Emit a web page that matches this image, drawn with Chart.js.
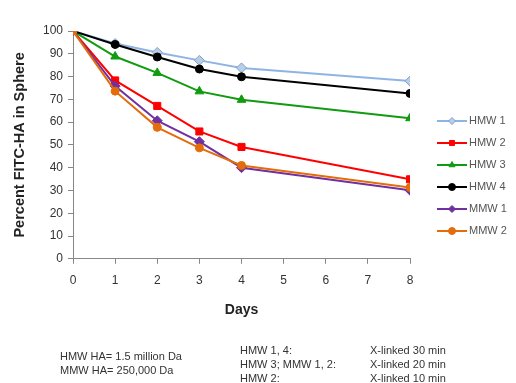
<!DOCTYPE html>
<html lang="en">
<head>
    <meta charset="UTF-8">
    <title>Percent FITC-HA in Sphere</title>
    <script src="https://cdn.jsdelivr.net/npm/chart.js@4.4.1/dist/chart.umd.min.js"></script>
    <style>
        body { margin: 0; background: #fff; }
        #wrap { position: relative; width: 516px; height: 383px; }
        #wrap canvas { position: absolute; left: 0; top: 0; }
        .note { position: absolute; font: 11px "Liberation Sans", Arial, sans-serif; color: #333; line-height: 14px; white-space: nowrap; }
    </style>
</head>
<body>
<div id="wrap">
    <canvas id="chart" width="516" height="383"></canvas>
    <div class="note" style="left:60px; top:349px;">HMW HA= 1.5 million Da<br>MMW HA= 250,000 Da</div>
    <div class="note" style="left:240px; top:343px;">HMW 1, 4:<br>HMW 3; MMW 1, 2:<br>HMW 2:</div>
    <div class="note" style="left:370px; top:343px;">X-linked 30 min<br>X-linked 20 min<br>X-linked 10 min</div>
</div>
<script>
// data
const days = [0, 1, 2, 3, 4, 8];
const seriesNames = ['HMW 1', 'HMW 2', 'HMW 3', 'HMW 4', 'MMW 1', 'MMW 2'];
const hmw1 = [100, 94.5, 90.6, 87.1, 83.8, 78.0];
const hmw2 = [100, 78.3, 67.1, 55.9, 49.1, 34.9];
const hmw3 = [100, 88.8, 81.6, 73.5, 69.8, 61.7];
const hmw4 = [100, 94.1, 88.6, 83.3, 79.9, 72.6];
const mmw1 = [100, 75.8, 60.6, 51.4, 40.0, 30.1];
const mmw2 = [100, 73.6, 57.7, 48.7, 41.0, 31.3];

const seriesValues = [hmw1, hmw2, hmw3, hmw4, mmw1, mmw2];
const lineColors = ['#8EB4E3', '#FF0000', '#119B11', '#000000', '#7030A0', '#E46C0A'];
const pointFills = ['#B9CDE5', '#FF0000', '#119B11', '#000000', '#7030A0', '#E46C0A'];
const pointBorders = ['#7F9FCF', '#FF0000', '#119B11', '#000000', '#7030A0', '#E46C0A'];
const pointShapes = ['rectRot', 'rect', 'triangle', 'circle', 'rectRot', 'circle'];
const pointSizes = [5, 5, 5, 4, 5, 4];

const datasets = seriesValues.map((vals, i) => ({
    label: seriesNames[i],
    data: days.map((d, j) => ({ x: d, y: vals[j] })),
    borderColor: lineColors[i],
    backgroundColor: pointFills[i],
    pointBackgroundColor: pointFills[i],
    pointBorderColor: pointBorders[i],
    pointStyle: pointShapes[i],
    pointRadius: pointSizes[i],
    pointBorderWidth: 1,
    borderWidth: 2,
    tension: 0,
    order: seriesValues.length - i   // later series on top, like the original
}));

// legend with line + marker, drawn on the canvas
const sideLegend = {
    id: 'sideLegend',
    afterDraw(chart) {
        const ctx = chart.ctx;
        ctx.save();
        chart.data.datasets.forEach((ds, i) => {
            const y = 121 + i * 22;
            ctx.strokeStyle = ds.borderColor;
            ctx.lineWidth = 2;
            ctx.beginPath();
            ctx.moveTo(437, y);
            ctx.lineTo(467, y);
            ctx.stroke();
            ctx.fillStyle = ds.pointBackgroundColor;
            ctx.strokeStyle = ds.pointBorderColor;
            ctx.lineWidth = 1;
            Chart.helpers.drawPoint(ctx, { pointStyle: ds.pointStyle, radius: 3.5, borderWidth: 1 }, 452, y);
            ctx.fillStyle = '#555';
            ctx.font = '11px "Liberation Sans", Arial, sans-serif';
            ctx.textBaseline = 'middle';
            ctx.fillText(ds.label, 469, y);
        });
        ctx.restore();
    }
};

new Chart(document.getElementById('chart'), {
    type: 'line',
    data: { datasets },
    options: {
        responsive: false,
        animation: false,
        layout: { padding: { left: 7, right: 106, top: 31, bottom: 60 } },
        plugins: { legend: { display: false }, tooltip: { enabled: false } },
        scales: {
            x: {
                type: 'linear',
                min: 0,
                max: 8,
                ticks: { stepSize: 1, color: '#333', padding: 10, font: { family: 'Liberation Sans', size: 12 } },
                grid: { drawOnChartArea: false, drawTicks: true, tickLength: 5, color: '#888' },
                border: { color: '#888' },
                title: { display: true, text: 'Days', color: '#222', font: { family: 'Liberation Sans', size: 14, weight: 'bold' } }
            },
            y: {
                min: 0,
                max: 100,
                afterFit(scale) { scale.width = 66; },
                ticks: { stepSize: 10, color: '#333', padding: 5, font: { family: 'Liberation Sans', size: 12 } },
                grid: { drawOnChartArea: false, drawTicks: true, tickLength: 5, color: '#888' },
                border: { color: '#888' },
                title: { display: true, text: 'Percent FITC-HA in Sphere', color: '#222', font: { family: 'Liberation Sans', size: 14.5, weight: 'bold' } }
            }
        }
    },
    plugins: [sideLegend]
});
</script>
</body>
</html>
